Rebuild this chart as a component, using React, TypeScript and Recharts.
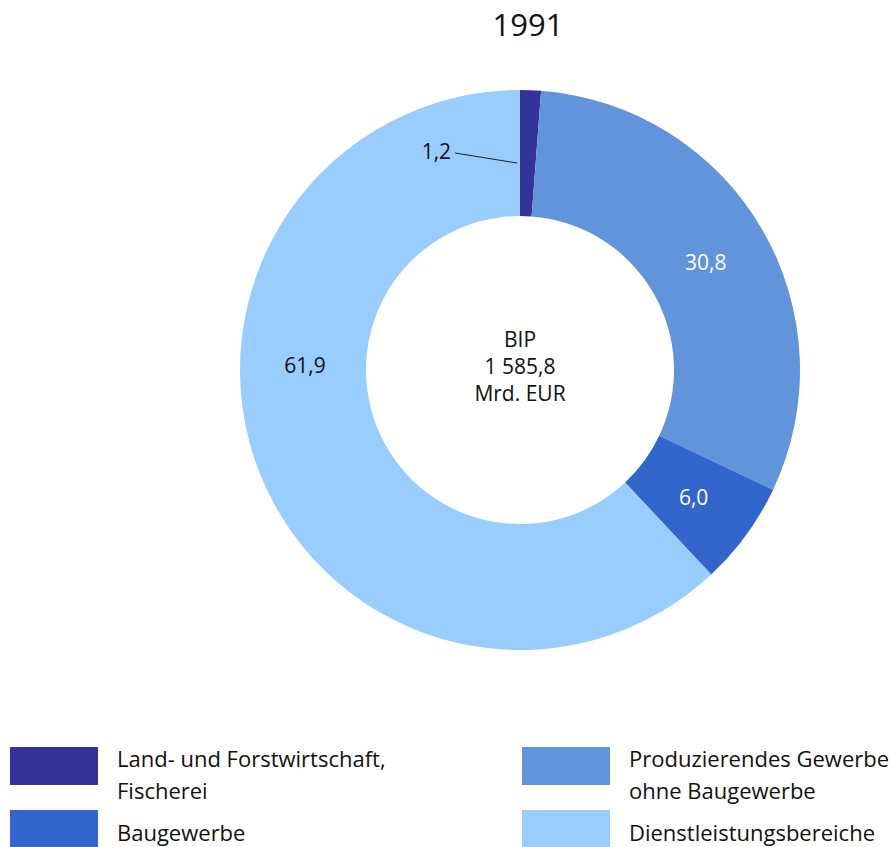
import { PieChart, Pie, Cell } from 'recharts'

const categories = [
  'Land- und Forstwirtschaft, Fischerei',
  'Produzierendes Gewerbe ohne Baugewerbe',
  'Baugewerbe',
  'Dienstleistungsbereiche',
]
const shares = [1.2, 30.8, 6.0, 61.9]
const labels = ['1,2', '30,8', '6,0', '61,9']
const colors = ['#333399', '#6294dc', '#3366cc', '#99ccff']
const labelColors = ['#111', '#fff', '#fff', '#111']
const centerLines = ['BIP', '1 585,8', 'Mrd. EUR']
const legendOrder = [
  { idx: 0, lines: ['Land- und Forstwirtschaft,', 'Fischerei'] },
  { idx: 1, lines: ['Produzierendes Gewerbe', 'ohne Baugewerbe'] },
  { idx: 2, lines: ['Baugewerbe'] },
  { idx: 3, lines: ['Dienstleistungsbereiche'] },
]

const data = categories.map((name, i) => ({ name, value: shares[i] }))

const FONT = '"Open Sans", "Noto Sans", sans-serif'
const RAD = Math.PI / 180

function renderLabel(props: any) {
  const { cx, cy, midAngle, innerRadius, outerRadius, index } = props
  if (index === 0) {
    const a = 90.8 * RAD
    const x1 = cx + 207 * Math.cos(a)
    const y1 = cy - 207 * Math.sin(a)
    return (
      <g>
        <line x1={x1} y1={y1} x2={x1 - 62} y2={y1 - 10} stroke="#222" strokeWidth={1} />
        <text x={x1 - 66} y={y1 - 12} textAnchor="end" dominantBaseline="central"
          fontSize={21} fontFamily={FONT} fill={labelColors[index]}>
          {labels[index]}
        </text>
      </g>
    )
  }
  const ang = index === 3 ? 178.6 : midAngle
  const r = (innerRadius + outerRadius) / 2 - 2
  const x = cx + r * Math.cos(ang * RAD)
  const y = cy - r * Math.sin(ang * RAD)
  return (
    <text x={x} y={y} textAnchor="middle" dominantBaseline="central"
      fontSize={21} fontFamily={FONT} fill={labelColors[index]}>
      {labels[index]}
    </text>
  )
}

export default function App() {
  return (
    <div style={{ position: 'absolute', left: 0, top: 0, width: 889, height: 847, background: '#fff', fontFamily: FONT, color: '#111' }}>
      <div style={{ position: 'absolute', left: 0, top: 3, width: 1056, textAlign: 'center', fontSize: 31 }}>1991</div>
      <div style={{ position: 'absolute', left: 0, top: 50 }}>
        <PieChart width={889} height={640} margin={{ top: 0, right: 0, bottom: 0, left: 0 }}>
          <Pie
            data={data}
            dataKey="value"
            cx={520}
            cy={320}
            innerRadius={154}
            outerRadius={280}
            startAngle={90}
            endAngle={-270}
            stroke="none"
            label={renderLabel}
            labelLine={false}
            isAnimationActive={false}
          >
            {data.map((d, i) => (
              <Cell key={d.name} fill={colors[i]} />
            ))}
          </Pie>
          {centerLines.map((t, i) => (
            <text key={t} x={520} y={289 + i * 27} textAnchor="middle" dominantBaseline="central"
              fontSize={21} fontFamily={FONT} fill="#111">{t}</text>
          ))}
        </PieChart>
      </div>
      {legendOrder.map((item, k) => {
        const col = k % 2
        const row = Math.floor(k / 2)
        const left = col === 0 ? 10 : 522
        const top = row === 0 ? 747 : 810
        return (
          <div key={item.idx} style={{ position: 'absolute', left, top, display: 'flex' }}>
            <div style={{ width: 88, height: 38, background: colors[item.idx] }} />
            <div style={{ marginLeft: 19, fontSize: 22, lineHeight: '32px', marginTop: row === 0 ? -5 : 6, whiteSpace: 'nowrap' }}>
              {item.lines.map((l) => (
                <div key={l}>{l}</div>
              ))}
            </div>
          </div>
        )
      })}
    </div>
  )
}
